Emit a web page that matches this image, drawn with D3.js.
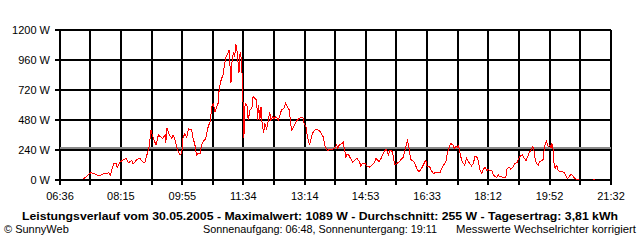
<!DOCTYPE html>
<html>
<head>
<meta charset="utf-8">
<script src="https://cdn.jsdelivr.net/npm/d3@7"></script>
<style>
	body { margin: 0; background: #fff; }
	svg { display: block; font-family: "Liberation Sans", Arial, sans-serif; }
</style>
</head>
<body>
<div id="chart"></div>
<script>
/**********************************************************/
/*														  */
/*	Data												  */
/*														  */
/**********************************************************/

// Axis labels
var timeTicks = ["06:36", "08:15", "09:55", "11:34", "13:14", "14:53", "16:33", "18:12", "19:52", "21:32"];
var powerTicks = [0, 240, 480, 720, 960, 1200];

// Measured power (W), null = no value
var times = [
	"07:13", "07:19", "07:26", "07:30", "07:36", "07:41", "07:46", "07:51", "07:55", "07:58",
	"08:03", "08:07", "08:09", "08:14", "08:19", "08:24", "08:27", "08:33", "08:35", "08:41",
	"08:46", "08:50", "08:54", "08:58", "09:01", "09:04", "09:06", "09:09", "09:12", "09:16",
	"09:19", "09:23", "09:27", "09:28", "09:30", "09:34", "09:38", "09:40", "09:43", "09:47",
	"09:51", "09:54", "09:56", "09:59", "10:02", "10:05", "10:07", "10:10", "10:13", "10:15",
	"10:18", "10:21", "10:24", "10:26", "10:29", "10:33", "10:37", "10:40", "10:43", "10:45",
	"10:48", "10:51", "10:53", "10:55", "10:58", "11:01", "11:03", "11:06", "11:09", "11:11",
	"11:14", "11:16", "11:18", "11:20", "11:22", "11:24", "11:27", "11:29", "11:31", "11:33",
	"11:35", "11:37", "11:40", "11:42", "11:45", "11:48", "11:50", "11:53", "11:56", "11:57",
	"11:59", "12:01", "12:03", "12:04", "12:07", "12:09", "12:12", "12:15", "12:17", "12:19",
	"12:22", "12:24", "12:27", "12:31", "12:34", "12:36", "12:40", "12:43", "12:46", "12:49",
	"12:51", "12:53", "12:56", "13:00", "13:03", "13:07", "13:11", "13:13", "13:16", "13:18",
	"13:20", "13:22", "13:25", "13:28", "13:31", "13:34", "13:38", "13:41", "13:44", "13:47",
	"13:51", "13:54", "13:58", "14:03", "14:06", "14:08", "14:10", "14:14", "14:17", "14:18",
	"14:21", "14:23", "14:26", "14:32", "14:36", "14:39", "14:43", "14:45", "14:48", "14:52",
	"14:55", "14:59", "15:03", "15:07", "15:10", "15:12", "15:15", "15:19", "15:22", "15:24",
	"15:27", "15:30", "15:33", "15:36", "15:38", "15:40", "15:42", "15:46", "15:50", "15:54",
	"15:57", "15:59", "16:01", "16:03", "16:05", "16:07", "16:11", "16:14", "16:17", "16:20",
	"16:24", "16:28", "16:31", "16:33", "16:37", "16:40", "16:43", "16:47", "16:51", "16:54",
	"16:57", "17:00", "17:04", "17:06", "17:09", "17:11", "17:15", "17:17", "17:20", "17:22",
	"17:24", "17:26", "17:29", "17:32", "17:34", "17:37", "17:40", "17:43", "17:45", "17:48",
	"17:51", "17:54", "17:56", "17:59", "18:02", "18:04", "18:07", "18:10", "18:12", "18:15",
	"18:18", "18:21", "18:23", "18:26", "18:29", "18:31", "18:37", "18:41", "18:43", "18:47",
	"18:49", "18:52", "18:56", "18:59", "19:03", "19:05", "19:08", "19:10", "19:14", "19:16",
	"19:19", "19:22", "19:25", "19:27", "19:29", "19:31", "19:34", "19:36", "19:39", "19:42",
	"19:43", "19:45", "19:47", "19:50", "19:53", "19:55", "19:56", "19:58", "19:59", "20:01",
	"20:04", "20:06", "20:09", "20:13", "20:17", "20:21", "20:24", "20:27", "20:31", "20:33",
	"20:36", "20:40", "20:50", "21:02", "21:06"
];
var power = [
	5, 27, 59, 53, 40, 35, 48, 50, 59, 40,
	128, 133, 101, 147, 160, 173, 139, 155, 128, 165,
	173, 147, 139, 213, 267, 400, 360, 320, 280, 360,
	347, 333, 360, 293, 413, 360, 333, 360, 320, 240,
	200, 213, 333, 373, 341, 413, 405, 400, 320, 293,
	200, 213, 213, 280, 307, 333, 427, 467, 587, 613,
	547, 587, 613, 733, 800, 840, 907, 987, 1013, 1040,
	773, 973, 1013, 987, 1089, 1027, 853, 1027, 960, 747,
	333, 613, 600, 480, 560, 573, 667, 653, 640, 480,
	600, 480, 587, 480, 373, 453, 413, 480, 547, 480,
	507, 493, 507, 480, 520, 560, 573, 613, 581, 560,
	453, 400, 427, 467, 485, 499, 501, 453, 427, 360,
	307, 288, 347, 387, 400, 405, 395, 368, 347, 267,
	235, 245, 245, 253, 280, 253, 280, 290, 303, 260,
	180, 208, 196, 139, 160, 173, 147, 112, 133, 133,
	112, 101, 120, 139, 173, 160, 147, 181, 219, 235,
	245, 200, 240, 227, 187, 128, 128, 139, 160, 181,
	240, 280, 315, 280, 200, 160, 149, 120, 80, 67,
	93, 133, 160, 107, 107, 75, 53, 59, 59, 59,
	93, 120, 155, 219, 261, 293, 280, 253, 267, 261,
	272, 227, 160, 133, 120, 173, 147, 127, 113, 130,
	192, 181, 155, 80, 53, 85, 101, 75, 85, 75,
	75, 40, 27, 21, 40, 27, 21, 21, 93, 101,
	85, 101, 133, 139, 181, 192, 200, 181, 155, 181,
	219, 240, 267, 227, 160, 133, 120, 147, 155, 165,
	227, 288, 307, 267, 280, 253, 293, 240, 147, 93,
	120, 80, 67, 67, 53, 13, 27, 45, 27, 13,
	5, 5, null, 5, 5
];

// Daily average (W)
var average = 255;

// Texts
var title = "Leistungsverlauf vom 30.05.2005 - Maximalwert: 1089 W - Durchschnitt: 255 W - Tagesertrag: 3,81 kWh";
var footLeft = "\u00a9 SunnyWeb";
var footMiddle = "Sonnenaufgang: 06:48, Sonnenuntergang: 19:11";
var footRight = "Messwerte Wechselrichter korrigiert";

/**********************************************************/
/*														  */
/*	Utilities											  */
/*														  */
/**********************************************************/

/**
 * "HH:MM" to minutes
 */
function toMinutes(s) {
	var p = s.split(":");
	return +p[0] * 60 + +p[1];
}

/**********************************************************/
/*														  */
/*	Chart												  */
/*														  */
/**********************************************************/

var width = 640, height = 240;
var plot = { left: 60, right: 611, top: 30, bottom: 180 };

var svg = d3.select("#chart").append("svg")
	.attr("width", width)
	.attr("height", height);

// Scales
var x = d3.scaleLinear()
	.domain([toMinutes(timeTicks[0]), toMinutes(timeTicks[timeTicks.length - 1])])
	.range([plot.left, plot.right]);
var y = d3.scaleLinear()
	.domain([0, d3.max(powerTicks)])
	.range([plot.bottom, plot.top]);

// Vertical grid: labelled ticks plus one line half way between
var gridTimes = [];
timeTicks.forEach(function(t, i) {
	gridTimes.push(toMinutes(t));
	if (i < timeTicks.length - 1)
		gridTimes.push((toMinutes(t) + toMinutes(timeTicks[i + 1])) / 2);
});

var grid = svg.append("g")
	.attr("stroke", "#000")
	.attr("stroke-width", 2)
	.attr("shape-rendering", "crispEdges");

grid.selectAll("line.v").data(gridTimes).enter().append("line")
	.attr("class", "v")
	.attr("x1", function(d) { return Math.round(x(d)); })
	.attr("x2", function(d) { return Math.round(x(d)); })
	.attr("y1", plot.top)
	.attr("y2", plot.bottom + 5);

grid.selectAll("line.h").data(powerTicks).enter().append("line")
	.attr("class", "h")
	.attr("x1", plot.left - 5)
	.attr("x2", plot.right)
	.attr("y1", function(d) { return Math.round(y(d)); })
	.attr("y2", function(d) { return Math.round(y(d)); });

// Average line
svg.append("line")
	.attr("x1", plot.left)
	.attr("x2", plot.right)
	.attr("y1", y(average))
	.attr("y2", y(average))
	.attr("stroke", "#8a8a8a")
	.attr("stroke-width", 2)
	.attr("shape-rendering", "crispEdges");

// Power curve
var series = times.map(function(t, i) { return { t: toMinutes(t), v: power[i] }; });
var line = d3.line()
	.defined(function(d) { return d.v !== null; })
	.x(function(d) { return x(d.t); })
	.y(function(d) { return y(d.v); });

svg.append("path")
	.datum(series)
	.attr("d", line)
	.attr("fill", "none")
	.attr("stroke", "#ff0000")
	.attr("stroke-width", 1)
	.attr("shape-rendering", "crispEdges");

// Axis labels
svg.append("g").selectAll("text").data(powerTicks).enter().append("text")
	.attr("x", plot.left - 10)
	.attr("y", function(d) { return y(d) + 4; })
	.attr("text-anchor", "end")
	.attr("font-size", 11)
	.text(function(d) { return d + " W"; });

svg.append("g").selectAll("text").data(timeTicks).enter().append("text")
	.attr("x", function(d) { return x(toMinutes(d)); })
	.attr("y", 200)
	.attr("text-anchor", "middle")
	.attr("font-size", 11)
	.text(function(d) { return d; });

// Footer
svg.append("text")
	.attr("x", 320)
	.attr("y", 220)
	.attr("text-anchor", "middle")
	.attr("font-size", 11)
	.attr("font-weight", "bold")
	.attr("textLength", 596)
	.attr("lengthAdjust", "spacingAndGlyphs")
	.text(title);

svg.append("text")
	.attr("x", 4)
	.attr("y", 233)
	.attr("font-size", 11)
	.text(footLeft);

svg.append("text")
	.attr("x", 203)
	.attr("y", 233)
	.attr("font-size", 11)
	.attr("textLength", 234)
	.attr("lengthAdjust", "spacingAndGlyphs")
	.text(footMiddle);

svg.append("text")
	.attr("x", 636)
	.attr("y", 233)
	.attr("text-anchor", "end")
	.attr("font-size", 11)
	.attr("textLength", 180)
	.attr("lengthAdjust", "spacingAndGlyphs")
	.text(footRight);
</script>
</body>
</html>
